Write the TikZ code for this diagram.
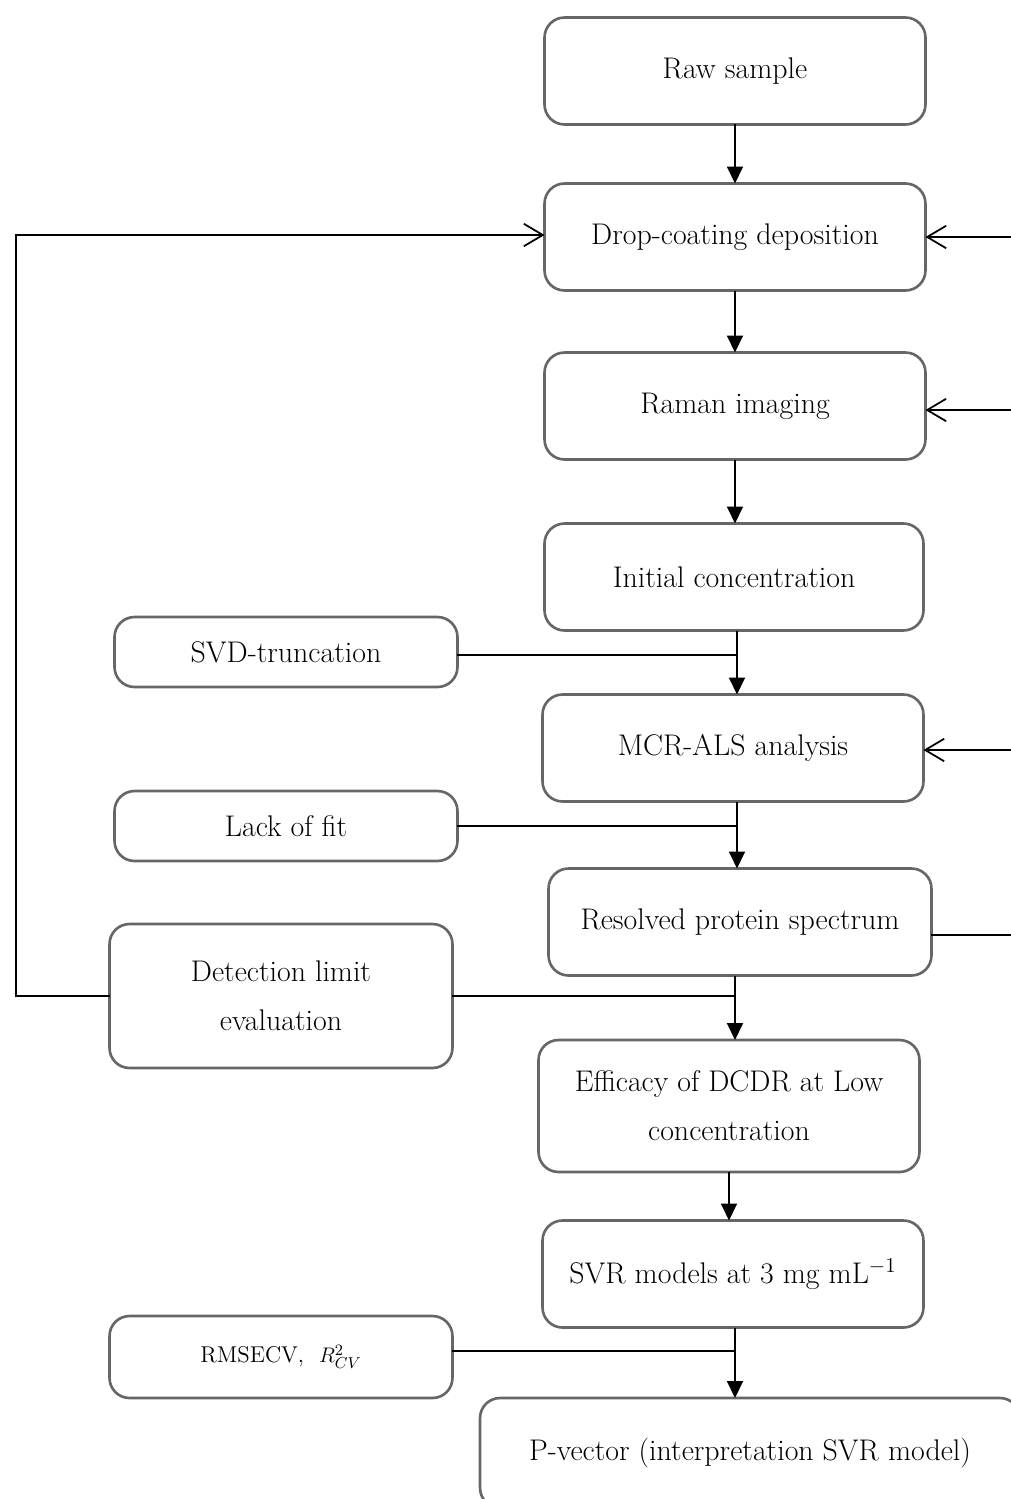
\documentclass[tikz,border=0pt]{standalone}
\usepackage{tikz}
\usetikzlibrary{arrows.meta,positioning,shapes}

\begin{document}
\begin{tikzpicture}[x=0.02cm,y=-0.02cm,
            box/.style={draw=black!60,line width=1.5pt,rectangle,rounded corners=0.4cm,
                        inner sep=0pt,outer sep=0pt,align=center,
                        font=\fontsize{17}{28}\selectfont},
            mainbox/.style={box,minimum width=7.62cm,minimum height=2.14cm},
            sidebox/.style={box,minimum width=6.86cm,minimum height=1.4cm},
            flow/.style={draw,line width=1pt,-{Triangle[length=0.34cm,width=0.32cm]}},
            back/.style={draw,line width=1pt,-{Straight Barb[length=0.38cm,width=0.45cm,line width=1pt]}},
            linkline/.style={draw,line width=1pt}
          ]
          \useasboundingbox (0,0) rectangle (1011,1499);

          %main column
          \node[mainbox] (raw) at (735,71) {Raw sample};
          \node[mainbox] (drop) at (735,237) {Drop-coating deposition};
          \node[mainbox] (raman) at (735,406) {Raman imaging};
          \node[mainbox,minimum width=7.58cm] (init) at (734,577) {Initial concentration};
          \node[mainbox] (mcr) at (733,748) {MCR-ALS analysis};
          \node[mainbox,minimum width=7.66cm] (resolved) at (740,922) {Resolved protein spectrum};
          \node[mainbox,minimum height=2.64cm] (eff) at (729,1106) {Efficacy of DCDR at Low\\concentration};
          \node[mainbox] (svr) at (733,1274) {SVR models at 3 mg mL\textsuperscript{$-1$}};
          \node[mainbox,minimum width=10.8cm,minimum height=2.2cm] (pvec) at (750,1453) {P-vector (interpretation SVR model)};

          %side boxes
          \node[sidebox] (svd) at (286,652) {SVD-truncation};
          \node[sidebox] (lack) at (286,826) {Lack of fit};
          \node[sidebox,minimum height=2.88cm] (detect) at (281,996) {Detection limit\\evaluation};
          \node[sidebox,minimum height=1.64cm,font=\fontsize{13}{15}\selectfont] (rmse) at (281,1357) {RMSECV,\ \ $R_{CV}^{2}$};

          %feedback corners
          \coordinate (rtop) at (1015,237);
          \coordinate (rbot) at (1015,935);
          \coordinate (ltop) at (16,235);
          \coordinate (lbot) at (16,996);

          %flow
          \path[flow] (raw) -- (drop);
          \path[flow] (drop) -- (raman);
          \path[flow] ([xshift=0.06cm]init.south) -- ([xshift=0.06cm]init.south |- mcr.north);
          \path[linkline] (svd.east |- 0,655) -- ([xshift=0.06cm]init.south |- 0,655);
          \path[flow] (raman) -- (raman.south |- init.north);
          \path[flow] ([xshift=0.08cm]mcr.south) -- ([xshift=0.08cm]mcr.south |- resolved.north);
          \path[linkline] (lack.east) -- ([xshift=0.08cm]mcr.south |- lack.east);
          \path[flow] ([xshift=-0.1cm]resolved.south) -- ([xshift=-0.1cm]resolved.south |- eff.north);
          \path[linkline] (detect.east) -- ([xshift=-0.1cm]resolved.south |- detect.east);
          \path[flow] (eff) -- (eff.south |- svr.north);
          \path[flow] ([xshift=0.04cm]svr.south) -- ([xshift=0.04cm]svr.south |- pvec.north);
          \path[linkline] (rmse.east |- 0,1351) -- ([xshift=0.04cm]svr.south |- 0,1351);

          %feedback loops
          \path[linkline] (resolved.east |- rbot) -- (rbot) -- (rtop);
          \path[back] (rtop) -- (drop.east);
          \path[back] (rtop |- 0,410) -- (raman.east |- 0,410);
          \path[back] (rtop |- 0,750) -- (mcr.east |- 0,750);
          \path[back] (detect.west) -- (lbot) -- (ltop) -- (drop.west |- ltop);
      \end{tikzpicture}
\end{document}
